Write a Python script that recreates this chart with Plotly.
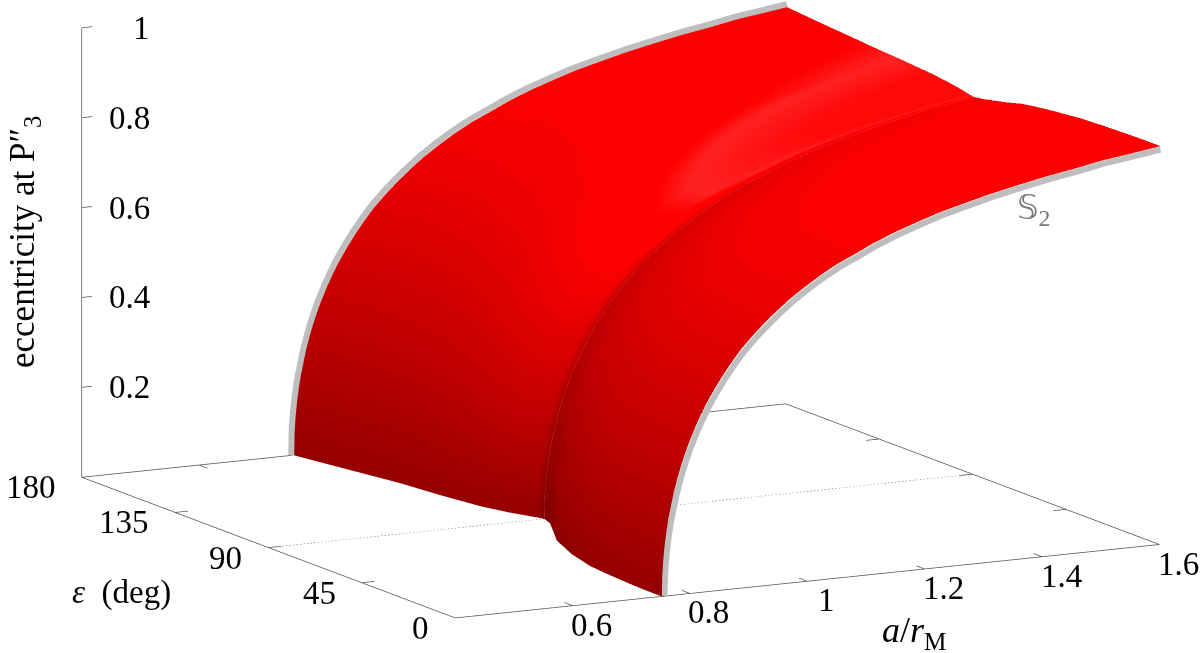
import numpy as np
import plotly.graph_objects as go

# values
eps_deg = [0, 8, 16, 27, 38, 52, 67, 78, 85, 88, 90, 92, 94, 100, 109, 125, 141, 160, 180]
# smallest a/rM reached at each obliquity (where the sheet meets the floor)
a_edge = [.752, .752, .754, .758, .764, .782, .81, .842, .862, .867, .87, .866, .861, .846, .83, .815, .804, .783, .761]
# a over a_edge, and the eccentricity found there
a_ratio = [1, 1.001, 1.003, 1.006, 1.01, 1.015, 1.02, 1.027, 1.035, 1.042, 1.05, 1.06, 1.075, 1.087, 1.1, 1.12, 1.14,
           1.16, 1.18, 1.205, 1.23, 1.26, 1.29, 1.325, 1.36, 1.4, 1.44, 1.48, 1.53, 1.58, 1.63, 1.68, 1.74, 1.8, 1.87,
           1.93, 2.0, 2.06, 2.13, 2.3]
ecc = [0, .045, .077, .109, .14, .172, .195, .228, .258, .281, .305, .332, .367, .392, .417, .45, .48,
       .507, .532, .558, .582, .608, .632, .656, .678, .7, .718, .737, .757, .774, .79, .803, .818, .831, .845,
       .855, .868, .876, .886, .9]
# how the light falls on each row: gain on the side facing it, darkening beside the ridge
row_gain = [1, 1, 1, 1, 1, 1, 1, 1, 1, 1, 1, 1.3, 1.4, 1.4, 1.3, 1.12, 1.04, 1, 1]
row_dark = [0, 0, 0, 0, .01, .03, .06, .09, .12, .13, .14, 0, 0, 0, 0, 0, 0, 0, 0]

a_ticks = [.4, .6, .8, 1, 1.2, 1.4, 1.6]
eps_ticks = [0, 45, 90, 135, 180]
z_ticks = [.2, .4, .6, .8, 1]

A_MIN, A_MAX = .4, 1.6
FONT = "Liberation Serif"
DARK = "#555555"

a_grid = np.outer(a_edge, a_ratio)
eps_grid = np.outer(eps_deg, np.ones(len(a_ratio)))
z_grid = np.outer(np.ones(len(eps_deg)), ecc)
shade = z_grid * np.array(row_gain)[:, None] - np.array(row_dark)[:, None]

fig = go.Figure()

fig.add_trace(go.Surface(
    x=a_grid, y=eps_grid, z=z_grid, surfacecolor=shade, cmin=-.2, cmax=1.1,
    colorscale=[[0, "#6e0000"], [.154, "#950000"], [.738, "#ff0000"], [.838, "#ff0000"],
                [.885, "#ff2222"], [1, "#ff0808"]],
    showscale=False, hoverinfo="skip",
    lighting=dict(ambient=1, diffuse=0, specular=0, roughness=1, fresnel=0),
))

# thin seam along the ridge
fig.add_trace(go.Scatter3d(
    x=a_grid[10], y=eps_grid[10], z=z_grid[10], mode="lines",
    line=dict(color="#e85050", width=1), showlegend=False, hoverinfo="skip",
))

# grey S2 curves on both ends, pushed just outside the red sheet
fig.add_trace(go.Scatter3d(
    x=a_grid[0] + .0045, y=eps_grid[0], z=z_grid[0] - .007, mode="lines",
    line=dict(color="#bebebe", width=12), showlegend=False, hoverinfo="skip",
))
fig.add_trace(go.Scatter3d(
    x=a_grid[-1] - .004, y=eps_grid[-1], z=np.where(z_grid[-1] > 0, z_grid[-1] + .006, 0), mode="lines",
    line=dict(color="#bebebe", width=12), showlegend=False, hoverinfo="skip",
))


def seg(x, y, z, color=DARK, width=1.5, dash="solid"):
    fig.add_trace(go.Scatter3d(x=x, y=y, z=z, mode="lines", line=dict(color=color, width=width, dash=dash),
                               showlegend=False, hoverinfo="skip"))


# base frame and z axis
seg([A_MIN, A_MAX, A_MAX, A_MIN, A_MIN], [0, 0, 180, 180, 0], [0, 0, 0, 0, 0])
seg([A_MIN, A_MIN], [180, 180], [0, 1])
seg([A_MIN, A_MAX], [90, 90], [0, 0], width=1, dash="dot")

for t in a_ticks[1:-1]:
    seg([t, t], [0, 4], [0, 0])
    seg([t, t], [180, 176], [0, 0])
for t in eps_ticks[1:-1]:
    seg([A_MIN, A_MIN + .022], [t, t], [0, 0])
    seg([A_MAX, A_MAX - .022], [t, t], [0, 0])
for t in z_ticks:
    seg([A_MIN, A_MIN + .018], [180, 180], [t, t])

notes = []
for t in a_ticks[1:]:
    notes.append(dict(x=t, y=0, z=0, text=f"{t:g}", xshift=19, yshift=-19))
for t in eps_ticks:
    notes.append(dict(x=A_MIN, y=t, z=0, text=f"{t:g}", xanchor="right", xshift=-24, yshift=-10))
for t in z_ticks:
    notes.append(dict(x=A_MIN, y=180, z=t, text=f"{t:g}", xanchor="right", xshift=70))
for n in notes:
    n.setdefault("xanchor", "center")
    n.update(showarrow=False, font=dict(family=FONT, size=33, color="black"))


def label(px, py, text, size=30, color="black", family=FONT, angle=0):
    return dict(x=px / 1200, y=1 - py / 653, xref="paper", yref="paper",
                text=text, textangle=angle, xanchor="center", yanchor="middle", showarrow=False,
                font=dict(family=family, size=size, color=color))


fig.update_layout(
    width=1200, height=653, margin=dict(l=0, r=0, t=0, b=0), paper_bgcolor="white", showlegend=False,
    scene=dict(
        domain=dict(x=[0, 1], y=[0, 1]),
        # a hair wider than the frame, lines right on the limit get clipped away
        xaxis=dict(range=[A_MIN - .002, A_MAX + .002], visible=False),
        yaxis=dict(range=[-.3, 180.3], visible=False),
        zaxis=dict(range=[-.002, 1.002], visible=False),
        aspectmode="manual", aspectratio=dict(x=2.445, y=2.465, z=1.41),
        camera=dict(projection=dict(type="orthographic"),
                    eye=dict(x=-1.424, y=-2.571, z=.468), up=dict(x=0, y=0, z=1),
                    center=dict(x=-.0557, y=.0292, z=-.126)),
        annotations=notes,
    ),
    annotations=[
        label(24, 242, "eccentricity at P″<sub>3</sub>", size=35, angle=-90),
        label(121, 592, "<i>ε</i>\u00a0\u00a0(deg)", size=33),
        label(914, 632, "<i>a</i>/<i>r</i><sub>M</sub>", size=36),
        label(1034, 210, "𝕊<sub>2</sub>", size=34, color="#777777", family="Liberation Serif, DejaVu Sans"),
    ],
)

fig.write_html("out.html", config={"displayModeBar": False}, post_script="document.body.style.margin = '0';")
